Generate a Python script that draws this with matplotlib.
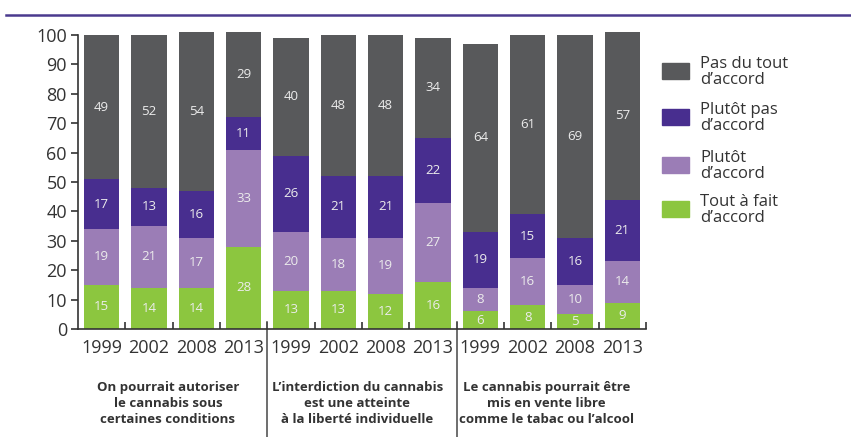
import matplotlib
matplotlib.use("Agg")
import matplotlib.pyplot as plt
from matplotlib.patches import Rectangle
from matplotlib.lines import Line2D

plt.rcParams['font.family'] = ['Open Sans', 'DejaVu Sans']

years = ["1999", "2002", "2008", "2013"] * 3
groups = ["On pourrait autoriser\nle cannabis sous\ncertaines conditions",
          "L\u2019interdiction du cannabis\nest une atteinte\nà la liberté individuelle",
          "Le cannabis pourrait être\nmis en vente libre\ncomme le tabac ou l\u2019alcool"]
series_names = ["Pas du tout\nd\u2019accord", "Plutôt pas\nd\u2019accord",
                "Plutôt\nd\u2019accord", "Tout à fait\nd\u2019accord"]
tout_a_fait = [15, 14, 14, 28, 13, 13, 12, 16, 6, 8, 5, 9]
plutot = [19, 21, 17, 33, 20, 18, 19, 27, 8, 16, 10, 14]
plutot_pas = [17, 13, 16, 11, 26, 21, 21, 22, 19, 15, 16, 21]
pas_du_tout = [49, 52, 54, 29, 40, 48, 48, 34, 64, 61, 69, 57]

colors = {"pdt": "#58595b", "pp": "#482e8f", "p": "#9b7db6", "taf": "#8cc63f"}

W, H = 851, 437
fig = plt.figure(figsize=(W / 100, H / 100), dpi=100)
ax = fig.add_axes([78 / W, (H - 329) / H, (646 - 78) / W, (329 - 35) / H])

x = list(range(len(years)))
bw = 0.74
stack = [(tout_a_fait, colors["taf"]), (plutot, colors["p"]),
         (plutot_pas, colors["pp"]), (pas_du_tout, colors["pdt"])]
bottom = [0] * len(x)
for vals, col in stack:
    ax.bar(x, vals, bw, bottom=bottom, color=col, clip_on=False, zorder=2)
    for xi, b, v in zip(x, bottom, vals):
        ax.text(xi, b + v / 2, str(v), ha="center", va="center",
                color="#ececec", fontsize=9.5, zorder=3)
    bottom = [b + v for b, v in zip(bottom, vals)]

ax.set_xlim(-0.5, 11.5)
ax.set_ylim(0, 100)
ax.set_yticks(range(0, 101, 10))
ax.tick_params(axis="y", labelsize=13, colors="#333333", length=5, width=1.2,
               direction="out", pad=3)
ax.set_xticks([i + 0.5 for i in range(12)])
ax.set_xticklabels([])
ax.tick_params(axis="x", length=5, width=1.2, direction="in", colors="#333333")
for s in ["top", "right"]:
    ax.spines[s].set_visible(False)
for s in ["left", "bottom"]:
    ax.spines[s].set_color("#333333")
    ax.spines[s].set_linewidth(1.2)

# year labels
for xi, y in zip(x, years):
    ax.text(xi, -6.5, y, ha="center", va="center", fontsize=13, color="#333333",
            clip_on=False)

# group labels
for gi, g in enumerate(groups):
    cx = gi * 4 + 1.5
    ax.text(cx - 0.1, -25.5, g, ha="center", va="center", fontsize=9.5,
            fontweight="bold", color="#333333", linespacing=1.3, clip_on=False)

# group separators
for sx in [3.5, 7.5]:
    ax.add_line(Line2D([sx, sx], [2.5, -40], color="#555555", lw=1.2,
                       clip_on=False))

# top rule
fig.add_artist(Line2D([6 / W, 1.0], [1 - 15 / H, 1 - 15 / H], color="#4a3a8e",
                      lw=1.8, transform=fig.transFigure))

# legend
leg = [(series_names[0], colors["pdt"], 63), (series_names[1], colors["pp"], 109),
       (series_names[2], colors["p"], 157), (series_names[3], colors["taf"], 201)]
for name, col, ytop in leg:
    fig.add_artist(Rectangle((662 / W, 1 - (ytop + 16) / H), 27 / W, 16 / H,
                             color=col, transform=fig.transFigure))
    fig.text(700 / W, 1 - (ytop + 9) / H, name, ha="left", va="center",
             fontsize=12, color="#333333", linespacing=1.05)

fig.savefig("out.png", dpi=100)
